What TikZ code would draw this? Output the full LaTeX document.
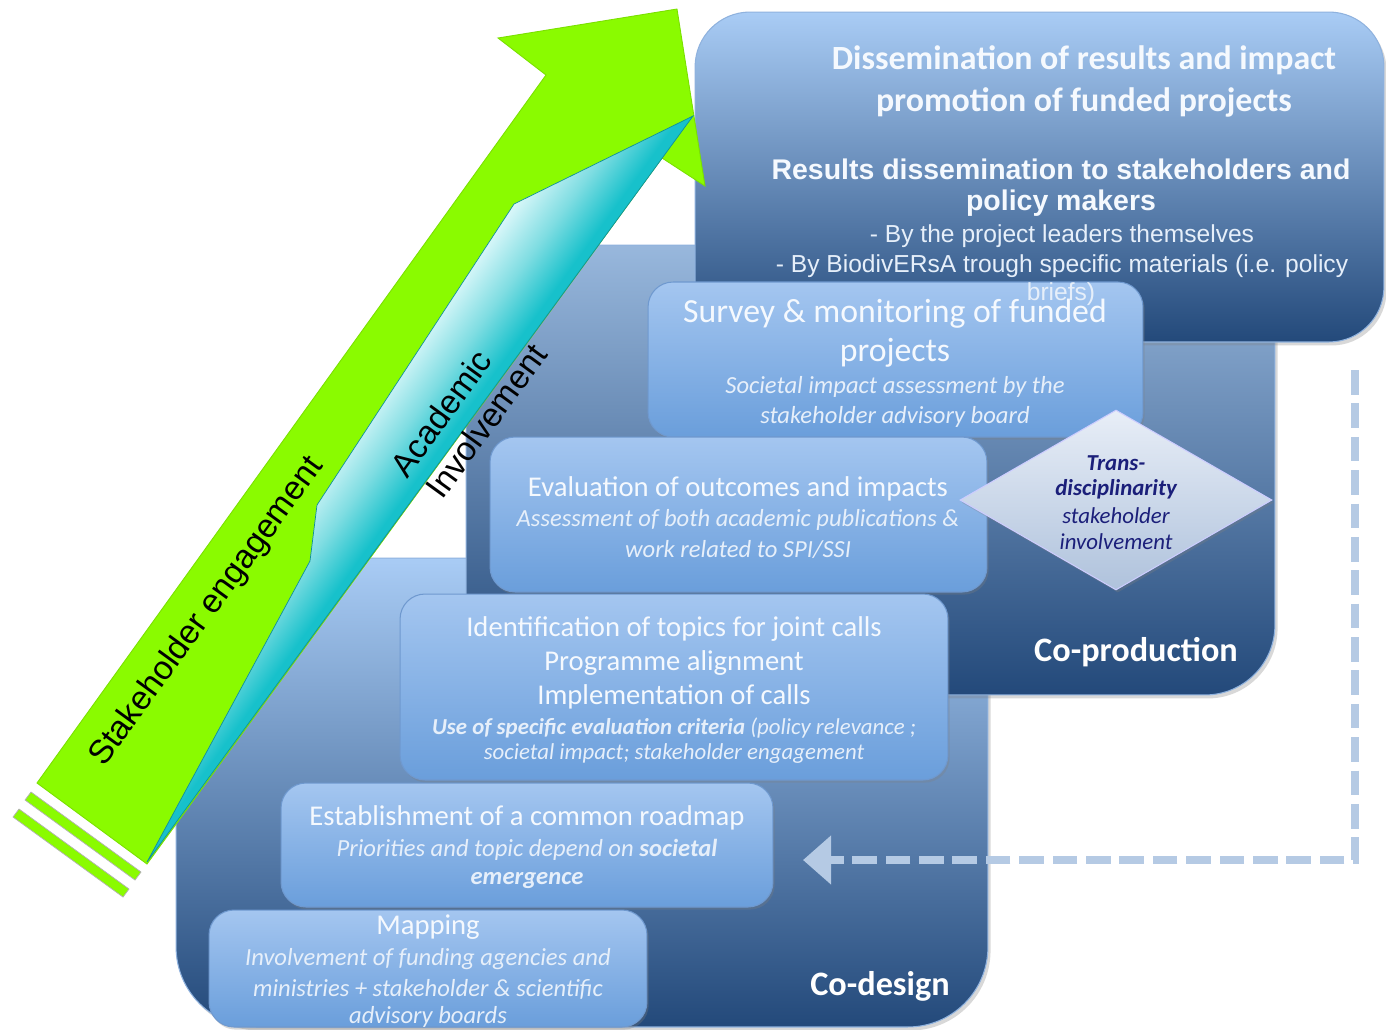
\documentclass[tikz,border=0pt]{standalone}
\usepackage{fontspec}
\setmainfont{Carlito}
\newfontfamily\arialf{Liberation Sans}
\usetikzlibrary{arrows.meta,shadows,shapes.geometric}
\definecolor{panelTop}{HTML}{A9CCF5}
\definecolor{panelBot}{HTML}{23497A}
\definecolor{panelEdge}{HTML}{8FB2DE}
\definecolor{boxTop}{HTML}{A4C6F0}
\definecolor{boxBot}{HTML}{6A9EDB}
\definecolor{boxEdge}{HTML}{6F99CF}
\definecolor{txtW}{HTML}{F5F9FE}
\definecolor{txtI}{HTML}{E6EFFA}
\definecolor{navy}{HTML}{1B1F7A}
\definecolor{dmTop}{HTML}{E8EEF7}
\definecolor{dmBot}{HTML}{AFC2DC}
\definecolor{grn}{HTML}{8AFB00}
\definecolor{grnEdge}{HTML}{7AE000}
\definecolor{cyLight}{HTML}{E4FAFC}
\definecolor{cyMid}{HTML}{7FDDE2}
\definecolor{cyDark}{HTML}{17C1CB}
\definecolor{dashC}{HTML}{B5CAE4}
\pgfdeclarehorizontalshading{cyshade}{100bp}{color(0bp)=(cyLight); color(44bp)=(cyLight); color(47bp)=(cyMid); color(49.5bp)=(cyDark); color(100bp)=(cyDark)}
\begin{document}
\begin{tikzpicture}[x=0.02cm,y=-0.02cm,
  panel/.style={draw=panelEdge, line width=0.6pt, inner sep=0pt, top color=panelTop, bottom color=panelBot,
    drop shadow={shadow xshift=1.5pt, shadow yshift=-2pt, opacity=0.3}},
  stepbox/.style={draw=boxEdge, line width=0.6pt, inner sep=0pt, rounded corners=0.5cm, top color=boxTop, bottom color=boxBot,
    drop shadow={shadow xshift=1pt, shadow yshift=-1.5pt, opacity=0.3}},
  ttl/.style={text=txtW, inner sep=0pt, font=\fontsize{16.3}{19}\selectfont},
  ital/.style={text=txtI, inner sep=0pt, font=\fontsize{14}{17}\selectfont\itshape},
  dtitle/.style={text=txtW, inner sep=0pt, font=\fontsize{19.3}{23}\selectfont\bfseries},
  dsub/.style={text=txtW, inner sep=0pt, font=\arialf\fontsize{16.2}{19}\selectfont\bfseries},
  dtxt/.style={text=txtI, inner sep=0pt, font=\arialf\fontsize{14}{16}\selectfont},
  phase/.style={text=white, inner sep=0pt, font=\fontsize{19.5}{23}\selectfont\bfseries},
  dmtxt/.style={text=navy, inner sep=0pt, font=\fontsize{13}{15}\selectfont\itshape},
  arrtxt/.style={text=black, inner sep=0pt, rotate=54, font=\arialf\fontsize{19}{22}\selectfont},
  dashconn/.style={draw=dashC, line width=5pt, dash pattern=on 14pt off 5pt, -{Triangle[length=16pt,width=27pt]}}
]
\useasboundingbox (0,0) rectangle (1386,1029);
\fill[white] (0,0) rectangle (1386,1029);

% phase panels
\node[panel, rounded corners=1.6cm, minimum width=16.24cm, minimum height=9.38cm] (codesign) at (582,792.5) {};
\node[panel, rounded corners=1.4cm, minimum width=16.18cm, minimum height=9cm, top color=panelTop!90!black] (coprod) at (870.5,470) {};
\node[panel, rounded corners=1.1cm, minimum width=13.78cm, minimum height=6.6cm] (dissem) at (1039.5,177) {};

% step boxes
\node[stepbox, minimum width=9.9cm, minimum height=3.1cm] (survey) at (895.5,359.5) {};
\node[stepbox, minimum width=9.94cm, minimum height=3.1cm] (evalb) at (738.5,514.5) {};
\node[stepbox, minimum width=10.96cm, minimum height=3.72cm] (ident) at (674,687) {};
\node[stepbox, minimum width=9.84cm, minimum height=2.48cm] (estab) at (527,845) {};
\node[stepbox, minimum width=8.76cm, minimum height=2.34cm] (mapb) at (428,968.5) {};

% diamond
\node[diamond, draw=white!80!blue, line width=0.6pt, inner sep=0pt, top color=dmTop, bottom color=dmBot,
  minimum width=6.24cm, minimum height=3.6cm, drop shadow={shadow xshift=1pt, shadow yshift=-1.5pt, opacity=0.3}] (trans) at (1116,500) {};

% dissemination texts
\node[dtitle] (d1) at (1084,60) {Dissemination of results and impact};
\node[dtitle] (d2) at (1084,102) {promotion of funded projects};
\node[dsub] (d3) at (1061,169) {Results dissemination to stakeholders and};
\node[dsub] (d4) at (1061,203) {policy makers};
\node[dtxt] (d5) at (1062,236) {- By the project leaders themselves};
\node[dtxt] (d6) at (1062,266) {- By BiodivERsA trough specific materials (i.e. policy};
\node[dtxt] (d7) at (1061,294) {briefs)};

% survey texts
\node[ttl, font=\fontsize{19.2}{23}\selectfont] (s1) at (895,314) {Survey \& monitoring of funded};
\node[ttl, font=\fontsize{19.2}{23}\selectfont] (s2) at (895,353) {projects};
\node[ital] (s3) at (895,387) {Societal impact assessment by the};
\node[ital] (s4) at (895,417) {stakeholder advisory board};

% evaluation texts
\node[ttl] (e1) at (738,489) {Evaluation of outcomes and impacts};
\node[ital] (e2) at (738,520) {Assessment of both academic publications \&};
\node[ital] (e3) at (738,549) {work related to SPI/SSI};

% identification texts
\node[ttl] (i1) at (674,629) {Identification of topics for joint calls};
\node[ttl] (i2) at (674,663) {Programme alignment};
\node[ttl] (i3) at (674,697) {Implementation of calls};
\node[ital, font=\fontsize{13}{16}\selectfont\itshape] (i4) at (674,728) {\textbf{Use of specific evaluation criteria} (policy relevance ;};
\node[ital, font=\fontsize{13}{16}\selectfont\itshape] (i5) at (674,754) {societal impact; stakeholder engagement};

% establishment texts
\node[ttl] (r1) at (527,818) {Establishment of a common roadmap};
\node[ital] (r2) at (527,850) {Priorities and topic depend on \textbf{societal}};
\node[ital] (r3) at (527,881) {\textbf{emergence}};

% mapping texts
\node[ttl] (m1) at (428,927) {Mapping};
\node[ital] (m2) at (428,959) {Involvement of funding agencies and};
\node[ital] (m3) at (428,989) {ministries + stakeholder \& scientific};
\node[ital] (m4) at (428,1017) {advisory boards};

% diamond texts
\node[dmtxt, font=\fontsize{13}{15}\selectfont\bfseries\itshape] (t1) at (1116,463) {Trans-};
\node[dmtxt, font=\fontsize{13}{15}\selectfont\bfseries\itshape] (t2) at (1116,489) {disciplinarity};
\node[dmtxt] (t3) at (1116,516) {stakeholder};
\node[dmtxt] (t4) at (1116,542) {involvement};

% phase labels
\node[phase] (lprod) at (1136,652) {Co-production};
\node[phase] (ldes) at (880,986) {Co-design};

% feedback dashed connector
\coordinate (dstart) at (1355,370);
\coordinate (dend) at (803,860);
\draw[dashconn] (dstart) |- (dend);

% big arrows
\fill[grn, draw=grnEdge, line width=0.5pt] (37,783) -- (546,75) -- (498,38) -- (677,9) -- (705,186) -- (662,158) -- (147,864) -- cycle;
\begin{scope}
  \clip (693,116) -- (514,204) -- (317,505) -- (310,561) -- (147,862) -- cycle;
  \shade[shading=cyshade, shading angle=-36] (20,89) rectangle (820,889);
\end{scope}
\draw[cyDark!75!black, line width=0.4pt] (693,116) -- (514,204) -- (317,505) -- (310,561) -- (147,862) -- cycle;
\fill[grn, draw=black!30, line width=0.4pt] (31,792) -- (141,872) -- (135,880) -- (25,800) -- cycle;
\fill[grn, draw=black!30, line width=0.4pt] (19,809) -- (129,889) -- (123,897) -- (13,817) -- cycle;

\node[arrtxt] (stk) at (207,612) {Stakeholder engagement};
\node[arrtxt] (ac1) at (441,413) {Academic};
\node[arrtxt] (ac2) at (486,421) {Involvement};
\end{tikzpicture}
\end{document}
